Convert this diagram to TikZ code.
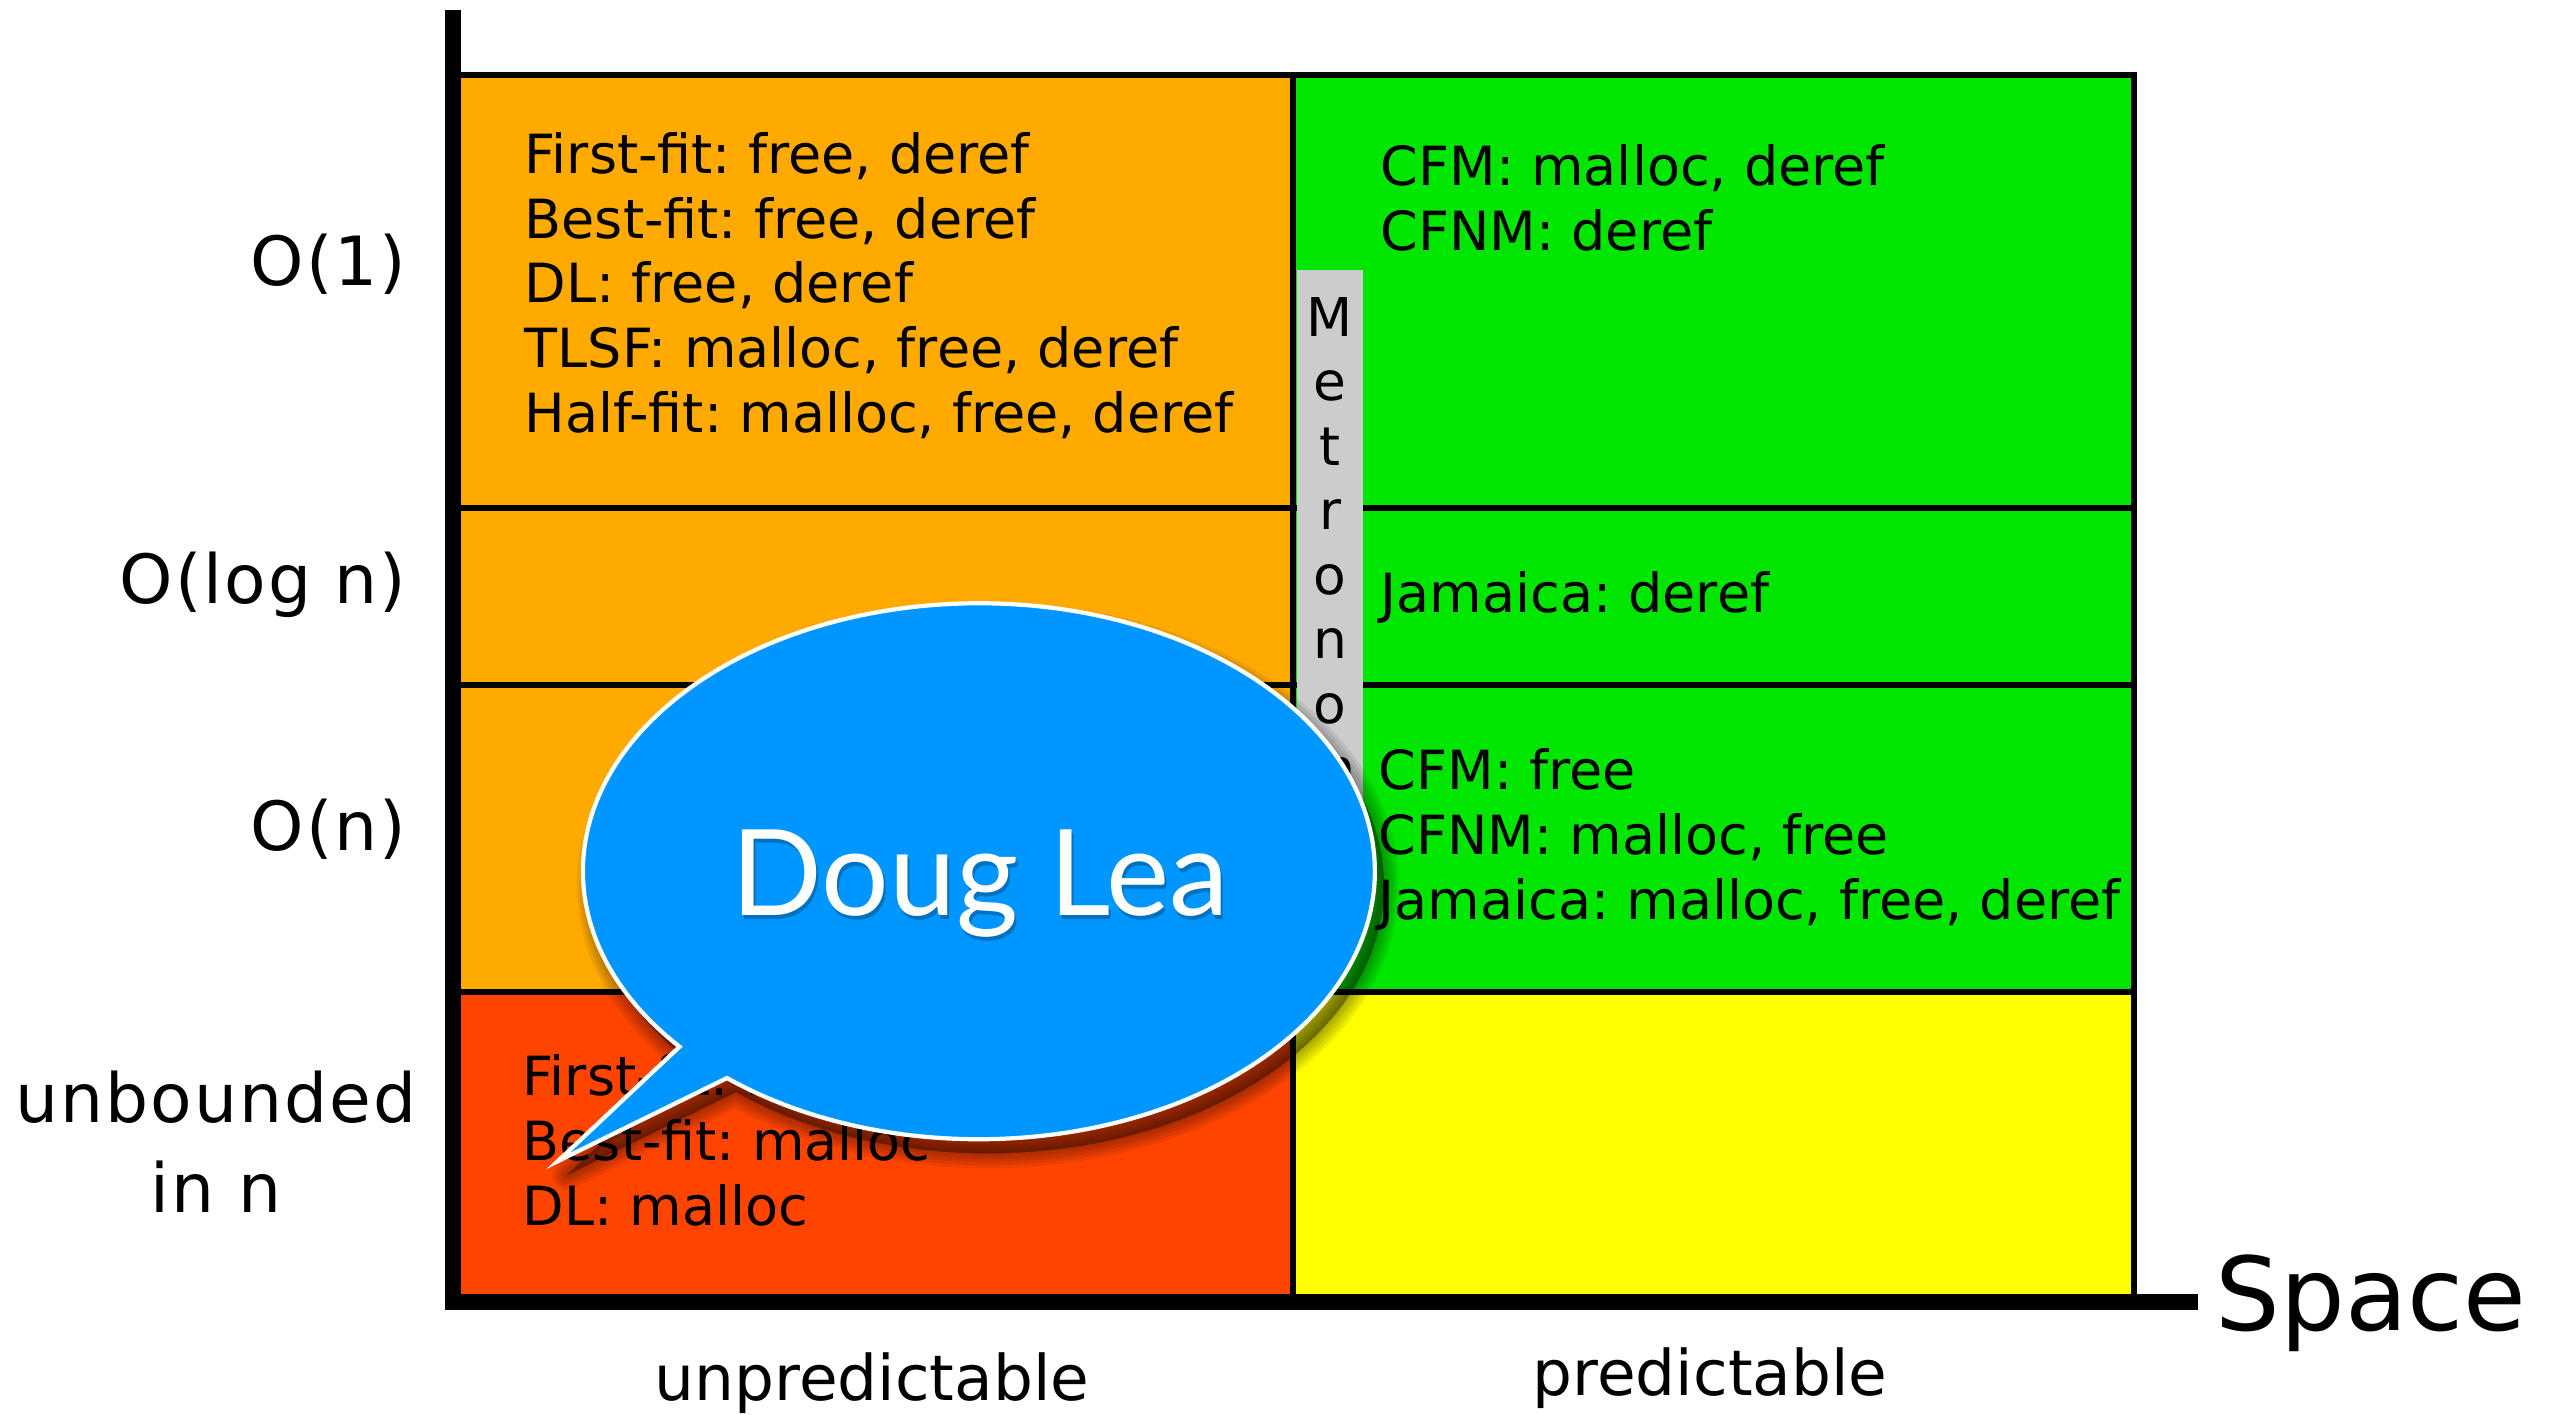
\documentclass[tikz,border=0pt]{standalone}
\usepackage{fontspec}
\setmainfont{DejaVu Sans}
\newfontfamily\labelfont[LetterSpace=3]{DejaVu Sans}
\newfontfamily\bubblefont{Lato}
\definecolor{cellorange}{RGB}{255,170,0}
\definecolor{cellgreen}{RGB}{0,230,0}
\definecolor{cellred}{RGB}{255,68,0}
\definecolor{cellyellow}{RGB}{255,255,0}
\definecolor{bargray}{RGB}{204,204,204}
\definecolor{bubbleblue}{RGB}{0,150,255}
\frenchspacing
\begin{document}
\begin{tikzpicture}[x=0.01cm,y=-0.01cm,
  gridline/.style={draw=black,line width=1.7pt},
  axisline/.style={draw=black,line width=4.5pt,line join=miter},
  % multi-line nodes are anchored at the baseline of their last line
  celltext/.style={anchor=base west,align=left,inner sep=0pt,
    font=\fontsize{15.35}{18.35}\selectfont},
  rowlabel/.style={anchor=base east,inner sep=0pt,font=\labelfont\fontsize{19.3}{21}\selectfont},
  collabel/.style={anchor=base,inner sep=0pt,font=\fontsize{17.9}{20}\selectfont},
  barletter/.style={anchor=base,inner sep=0pt,font=\fontsize{15.2}{18}\selectfont},
  bubbleshape/.style={insert path={(727,1078) arc[start angle=129.5,end angle=-220.9,x radius=396,y radius=268] -- (558,1161) -- cycle}}]
\useasboundingbox (0,0) rectangle (2558,1414);

% cell backgrounds
\fill[cellorange] (453,75) rectangle (1293,992);
\fill[cellred] (453,992) rectangle (1293,1302);
\fill[cellgreen] (1293,75) rectangle (2134,992);
\fill[cellyellow] (1293,992) rectangle (2134,1302);

% grid
\draw[gridline] (453,75) rectangle (2134,1302);
\draw[gridline] (1293,75) -- (1293,1302);
\draw[gridline] (453,508) -- (2134,508);
\draw[gridline] (453,685) -- (2134,685);
\draw[gridline] (453,992) -- (2134,992);

% axes
\coordinate (ytop) at (453,10);
\coordinate (origin) at (453,1302);
\coordinate (xend) at (2198,1302);
\draw[axisline] (ytop) -- (origin) -- (xend);

% cell contents
\node[celltext] (o1u) at (524,432) {First-fit: free, deref\\Best-fit: free, deref\\DL: free, deref\\TLSF: malloc, free, deref\\Half-fit: malloc, free, deref};
\node[celltext] (o1p) at (1380,250.5) {CFM: malloc, deref\\CFNM: deref};
\node[celltext] (logp) at (1380,612) {Jamaica: deref};
\node[celltext] (onp) at (1378,919) {CFM: free\\CFNM: malloc, free\\Jamaica: malloc, free, deref};
\node[celltext] (unbu) at (522,1225) {First-fit: malloc\\Best-fit: malloc\\DL: malloc};

% row labels
\node[rowlabel] (lo1) at (407,285) {O(1)};
\node[rowlabel] (lolog) at (407,603) {O(log n)};
\node[rowlabel] (lon) at (407,850) {O(n)};
\node[anchor=base,align=center,inner sep=0pt,font=\labelfont\fontsize{19.3}{25.6}\selectfont] (lunb) at (216,1212) {unbounded\\in n};

% column labels and axis name
\node[collabel] (lunpred) at (872,1400) {unpredictable};
\node[collabel] (lpred) at (1710,1395) {predictable};
\node[anchor=base west,inner sep=0pt,font=\fontsize{29}{32}\selectfont] (space) at (2215,1330) {Space};

% vertical Metronome bar
\fill[bargray] (1297,270) rectangle (1363,890);
\foreach \ch [count=\i from 0] in {M,e,t,r,o,n,o,m,e}
  \node[barletter] (met\i) at (1330,336+64.5*\i) {\ch};

% speech bubble with soft shadow
\begin{scope}[shift={(9,14)}]
  \foreach \w in {30,24,18,12,6,0}
    \path[fill=black,draw=black,line width=\w*0.2845pt,line join=round,opacity=0.07] [bubbleshape];
\end{scope}
\path[fill=bubbleblue,draw=white,line width=1.2pt,line join=miter] [bubbleshape];
\node[font=\bubblefont\fontsize{34}{34}\selectfont,text=black,opacity=0.25,anchor=base,inner sep=0pt] at (982,919) {Doug Lea};
\node[font=\bubblefont\fontsize{34}{34}\selectfont,text=white,anchor=base,inner sep=0pt] (doug) at (980,915) {Doug Lea};
\end{tikzpicture}
\end{document}
